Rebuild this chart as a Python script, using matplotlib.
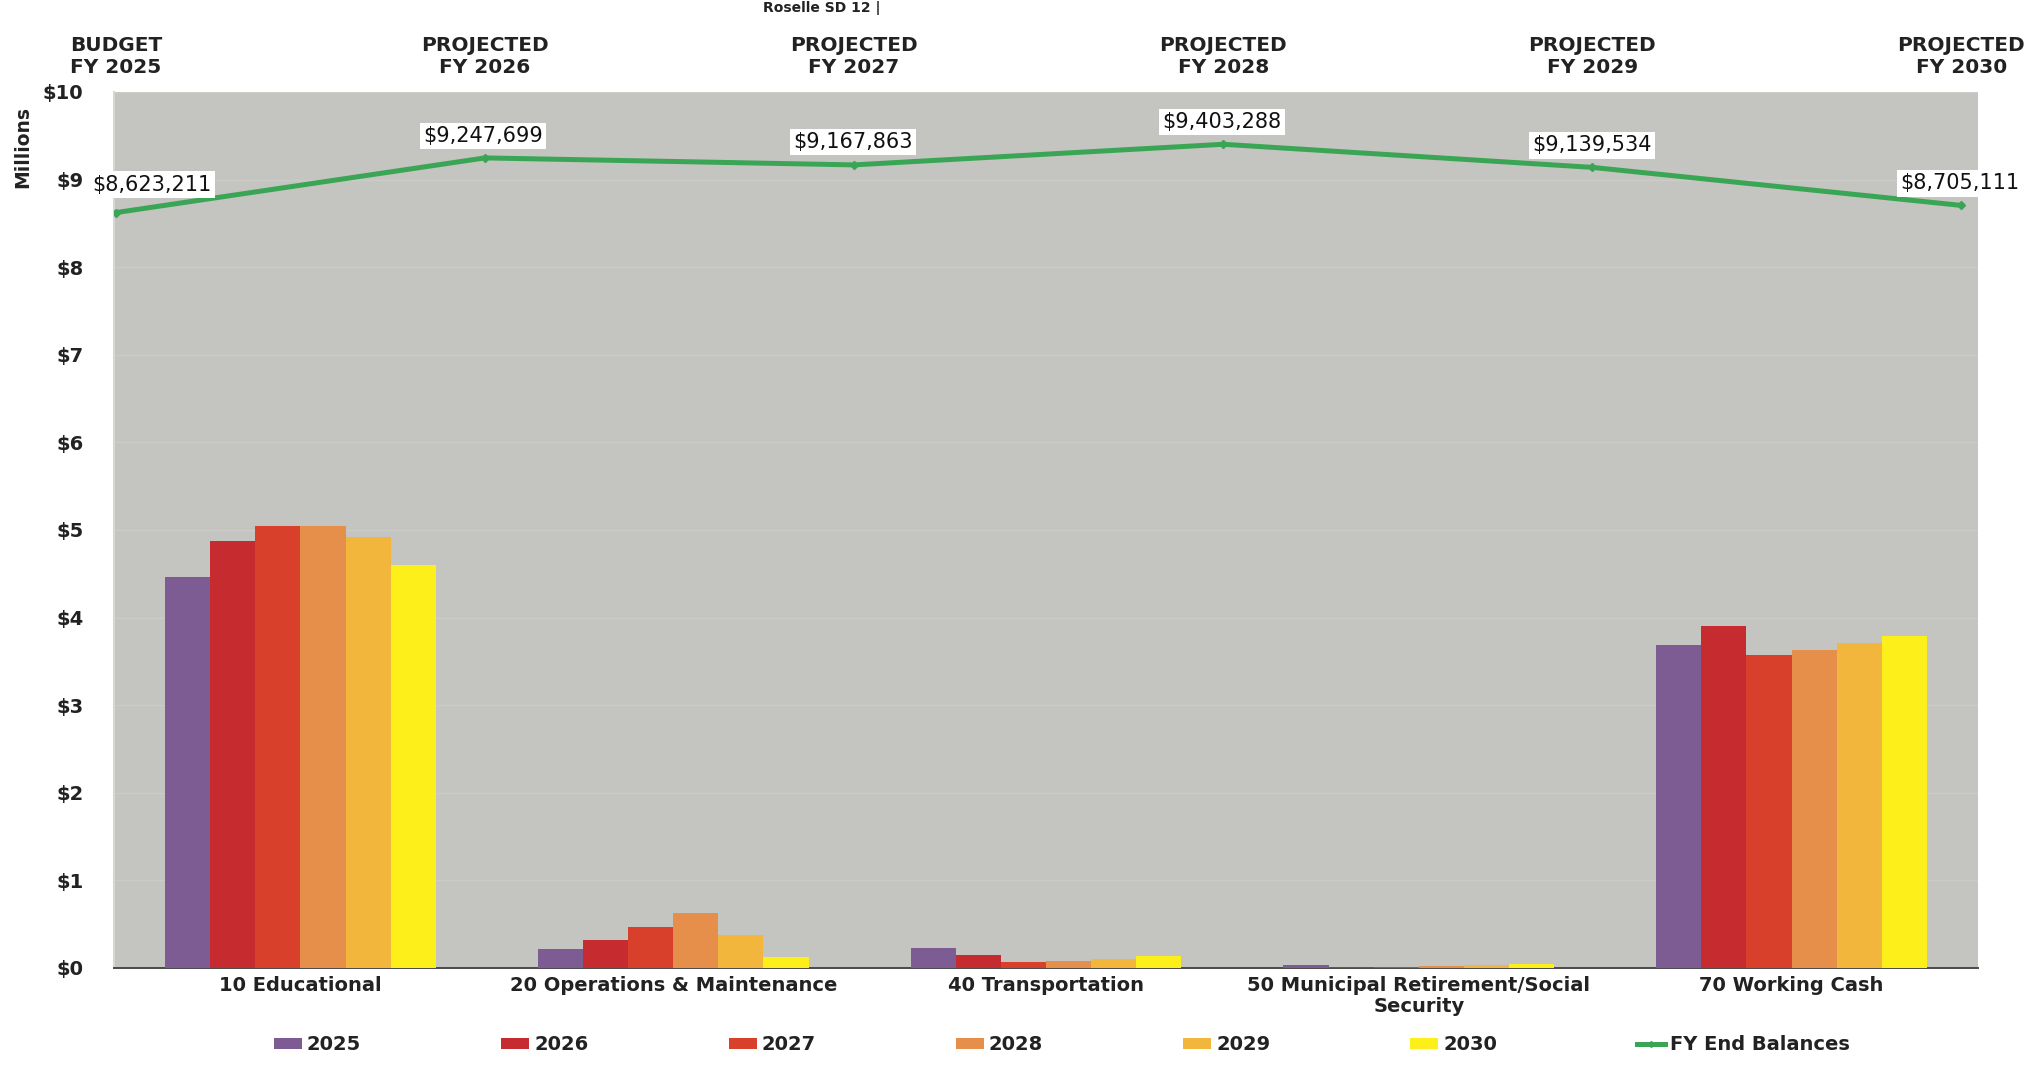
import matplotlib
matplotlib.use("Agg")
import matplotlib.pyplot as plt
import numpy as np
from matplotlib.lines import Line2D
from matplotlib.patches import Patch

# Fund categories (bar groups)
funds = ["10 Educational", "20 Operations & Maintenance", "40 Transportation",
         "50 Municipal Retirement/Social\nSecurity", "70 Working Cash"]

# Year-end fund balances in millions of dollars, one list per fiscal year
years = ["2025", "2026", "2027", "2028", "2029", "2030"]
bal_2025 = [4.46, 0.22, 0.23, 0.03, 3.69]
bal_2026 = [4.87, 0.32, 0.15, 0.01, 3.90]
bal_2027 = [5.05, 0.47, 0.07, 0.01, 3.57]
bal_2028 = [5.05, 0.63, 0.08, 0.02, 3.63]
bal_2029 = [4.92, 0.38, 0.10, 0.03, 3.71]
bal_2030 = [4.60, 0.13, 0.14, 0.05, 3.79]

# Total fund balance at fiscal year end (dollars)
period_labels = ["BUDGET\nFY 2025", "PROJECTED\nFY 2026", "PROJECTED\nFY 2027",
                 "PROJECTED\nFY 2028", "PROJECTED\nFY 2029", "PROJECTED\nFY 2030"]
fy_end_balances = [8623211, 9247699, 9167863, 9403288, 9139534, 8705111]

y_ticks = [0, 1, 2, 3, 4, 5, 6, 7, 8, 9, 10]

series = [bal_2025, bal_2026, bal_2027, bal_2028, bal_2029, bal_2030]
colors = ["#7D5C94", "#C62B30", "#D9402B", "#E68F4B", "#F3B63C", "#FDF01A"]
line_color = "#3AA655"

W, H = 2027, 1073
fig = plt.figure(figsize=(W / 100, H / 100), dpi=100)
fig.patch.set_facecolor("white")

left, right = 114 / W, 1978 / W
top_px, bot_px = 92, 968
ax = fig.add_axes([left, 1 - bot_px / H, right - left, (bot_px - top_px) / H])
ax.set_facecolor("#C4C5C0")

# Clustered bars
n = len(series)
bw = 0.121
x = np.arange(len(funds))
for i, (vals, c) in enumerate(zip(series, colors)):
    ax.bar(x + (i - (n - 1) / 2) * bw, vals, width=bw, color=c,
           edgecolor="none", zorder=3)

ax.set_xlim(-0.5, len(funds) - 0.5)
ax.set_ylim(0, 10)
ax.set_yticks(y_ticks)
ax.set_yticklabels([f"${v}" for v in y_ticks], fontsize=14, fontweight="bold",
                   color="#222222")
ax.set_xticks(x)
ax.set_xticklabels(funds, fontsize=14, fontweight="bold", color="#222222",
                   linespacing=1.1)
ax.tick_params(axis="y", length=0, pad=22)
ax.tick_params(axis="x", length=0, pad=6)
ax.grid(axis="y", color="#CBCCC8", linewidth=1.0, zorder=0)

for s in ["top", "right"]:
    ax.spines[s].set_visible(False)
ax.spines["left"].set_color("#D6D7D3")
ax.spines["left"].set_linewidth(1.5)
ax.spines["bottom"].set_color("#4A4A4A")
ax.spines["bottom"].set_linewidth(1.4)

# FY end balance line on a secondary horizontal axis
ax2 = ax.twiny()
px = np.arange(len(fy_end_balances))
yvals = np.array(fy_end_balances) / 1e6
ax2.plot(px, yvals, color=line_color, linewidth=3.6, marker="D",
         markersize=4, zorder=5)
ax2.set_xlim(-0.005, 5.045)
ax2.set_xticks(px)
ax2.set_xticklabels(period_labels, fontsize=14.5, fontweight="bold",
                    color="#222222", linespacing=1.15)
ax2.tick_params(axis="x", length=0, pad=11)
for s in ax2.spines.values():
    s.set_visible(False)

label_offsets = [(36, 28), (-2, 22), (-1, 23), (-1, 22), (0, 22), (-2, 22)]
for xi, yi, v, off in zip(px, yvals, fy_end_balances, label_offsets):
    ax2.annotate(f"${v:,.0f}", (xi, yi), xytext=off, textcoords="offset pixels",
                 ha="center", va="center", fontsize=15, color="#111111",
                 bbox=dict(boxstyle="square,pad=0.15", facecolor="white",
                           edgecolor="none"),
                 zorder=6, annotation_clip=False)

# Axis unit label
fig.text(23 / W, 1 - 147 / H, "Millions", rotation=90, ha="center",
         va="center", fontsize=13.5, fontweight="bold", color="#222222")

# Heading at the top edge of the page
fig.text(763 / W, 1 - 1 / H, "Roselle SD 12 |", ha="left", va="top",
         fontsize=10, fontweight="bold", color="#222222")

# Legend
handles = [Patch(facecolor=c, edgecolor="none") for c in colors]
handles.append(Line2D([0], [0], color=line_color, linewidth=3.6, marker="D",
                      markersize=3))
fig.legend(handles, years + ["FY End Balances"], loc="center",
           bbox_to_anchor=(1062 / W, 1 - 1045 / H), ncol=7, frameon=False,
           prop=dict(size=14, weight="bold"), handlelength=1.45,
           handleheight=0.5, handletextpad=0.25, columnspacing=7.2,
           labelcolor="#222222")

fig.savefig("out.png", dpi=100, facecolor="white")
